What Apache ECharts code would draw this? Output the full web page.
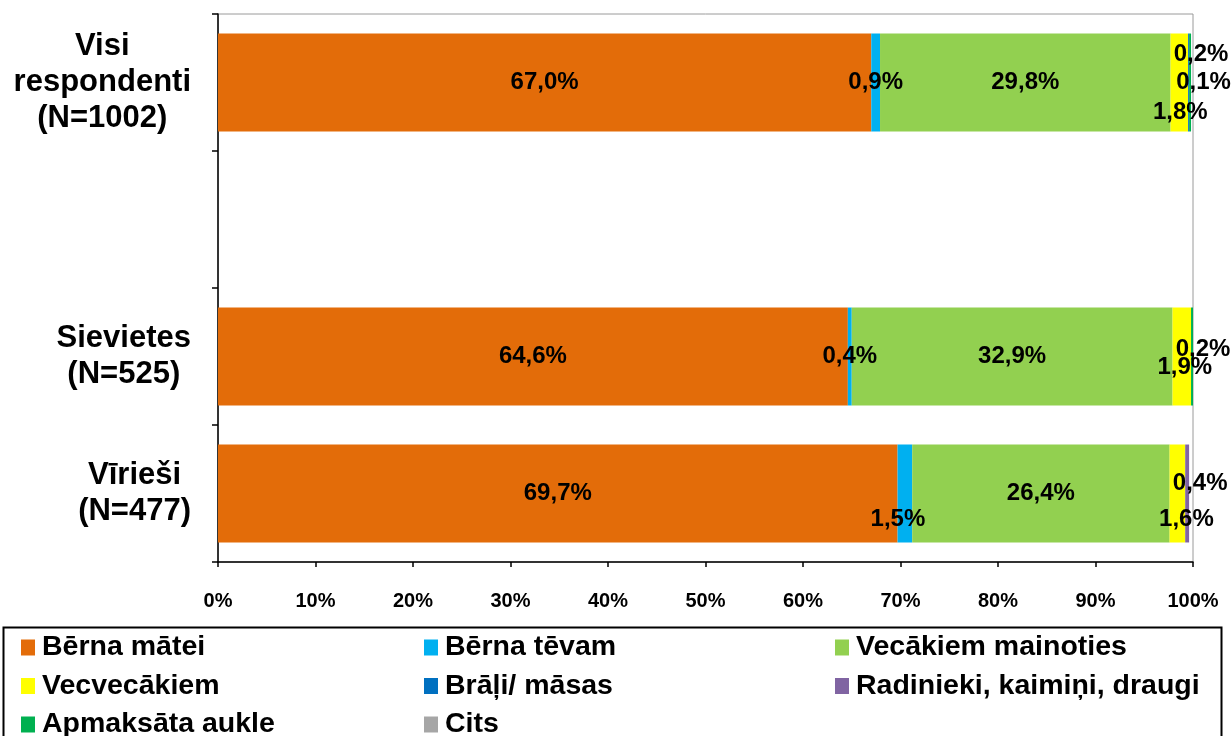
<!DOCTYPE html>
<html>
<head>
<meta charset="utf-8">
<script src="https://cdn.jsdelivr.net/npm/echarts@6/dist/echarts.min.js"></script>
<style>
html,body{margin:0;padding:0;background:#fff;}
#chart{width:1231px;height:736px;}
</style>
</head>
<body>
<div id="chart"></div>
<script>
// ---- data ----
const categories = ['Visi\nrespondenti\n(N=1002)', '', 'Sievietes\n(N=525)', 'Vīrieši\n(N=477)'];
const seriesNames = ['Bērna mātei', 'Bērna tēvam', 'Vecākiem mainoties', 'Vecvecākiem', 'Brāļi/ māsas', 'Radinieki, kaimiņi, draugi', 'Apmaksāta aukle', 'Cits'];
const berna_matei = [67.0, null, 64.6, 69.7];
const berna_tevam = [0.9, null, 0.4, 1.5];
const vecakiem_mainoties = [29.8, null, 32.9, 26.4];
const vecvecakiem = [1.8, null, 1.9, 1.6];
const bralji_masas = [0.1, null, 0, 0];
const radinieki = [0, null, 0, 0.4];
const aukle = [0.2, null, 0.2, 0];
const cits = [0, null, 0, 0];
const xTicks = [0, 10, 20, 30, 40, 50, 60, 70, 80, 90, 100];

// ---- styling ----
const values = [berna_matei, berna_tevam, vecakiem_mainoties, vecvecakiem, bralji_masas, radinieki, aukle, cits];
const colors = ['#E36C09', '#00B0F0', '#92D050', '#FFFF00', '#0070C0', '#8064A2', '#00B050', '#A6A6A6'];
// label offsets for crowded small segments: key "series-category"
const labelOffsets = {
  '3-0': [1, 30], '4-0': [15, 0], '6-0': [11, -28],
  '3-2': [3, 11], '6-2': [11, -7],
  '1-3': [-7, 26], '3-3': [9, 26], '5-3': [13, -10]
};
const FONT = '"Liberation Sans", Arial, sans-serif';
const fmt = v => v.toFixed(1).replace('.', ',') + '%';

const series = values.map((arr, i) => ({
  name: seriesNames[i],
  type: 'bar',
  stack: 'total',
  barCategoryGap: '28.5%',
  itemStyle: { color: colors[i] },
  data: arr.map((v, j) => {
    if (v === null) return '-';
    const off = labelOffsets[i + '-' + j] || [0, 0];
    return {
      value: v,
      label: {
        show: v > 0,
        position: 'inside',
        offset: off,
        formatter: p => fmt(p.value),
        fontFamily: FONT,
        fontWeight: 'bold',
        fontSize: 24,
        color: '#000'
      }
    };
  })
}));

const legendBase = {
  orient: 'vertical',
  top: 633,
  height: 110,
  padding: 0,
  itemWidth: 14,
  itemHeight: 16,
  itemGap: 9.5,
  icon: 'rect',
  selectedMode: false,
  textStyle: { fontFamily: FONT, fontWeight: 'bold', fontSize: 28.5, color: '#000', lineHeight: 26, padding: [0, 0, 0, 2] }
};

const chart = echarts.init(document.getElementById('chart'), null, { renderer: 'canvas' });
chart.setOption({
  backgroundColor: '#fff',
  animation: false,
  grid: { left: 218, right: 38, top: 14, bottom: 174, show: true, borderColor: '#9a9a9a', borderWidth: 1 },
  xAxis: {
    type: 'value', min: 0, max: 100, interval: 10,
    axisLine: { show: true, lineStyle: { color: '#000', width: 1.5 } },
    axisTick: { show: true, length: 5, lineStyle: { color: '#000', width: 1.5 } },
    splitLine: { show: false },
    axisLabel: {
      margin: 29,
      formatter: v => (xTicks.includes(v) ? v + '%' : ''),
      fontFamily: FONT, fontWeight: 'bold', fontSize: 20, color: '#000'
    }
  },
  yAxis: {
    type: 'category', inverse: true, data: categories,
    axisLine: { show: true, lineStyle: { color: '#000', width: 1.5 } },
    axisTick: { show: true, length: 6, interval: 0, lineStyle: { color: '#000', width: 1.5 } },
    axisLabel: {
      interval: 0, margin: 27, align: 'right',
      formatter: v => v.split('\n').map(s => '{c|' + s + '}').join('\n'),
      rich: { c: { align: 'center', fontFamily: FONT, fontWeight: 'bold', fontSize: 31, lineHeight: 36, color: '#000' } }
    }
  },
  legend: [
    Object.assign({}, legendBase, { left: 21, data: [seriesNames[0], seriesNames[3], seriesNames[6]] }),
    Object.assign({}, legendBase, { left: 424, data: [seriesNames[1], seriesNames[4], seriesNames[7]] }),
    Object.assign({}, legendBase, { left: 835, data: [seriesNames[2], seriesNames[5]] })
  ],
  graphic: [{
    type: 'rect', left: 1, top: 625, silent: true,
    shape: { width: 1218, height: 130 },
    style: { fill: 'none', stroke: '#000', lineWidth: 2 }
  }],
  series: series
});
</script>
</body>
</html>
